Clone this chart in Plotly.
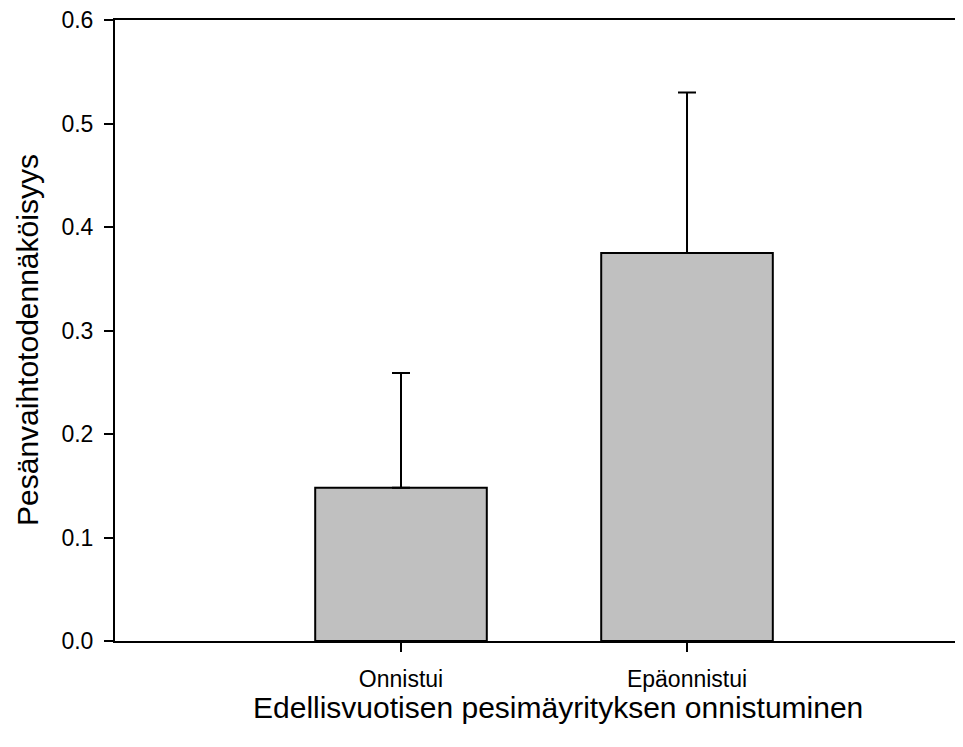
import plotly.graph_objects as go

categories = ["Onnistui", "Epäonnistui"]
means = [0.148, 0.375]
errors_up = [0.111, 0.155]
y_ticks = [0.0, 0.1, 0.2, 0.3, 0.4, 0.5, 0.6]
x_title = "Edellisvuotisen pesimäyrityksen onnistuminen"
y_title = "Pesänvaihtotodennäköisyys"

font_family = "Liberation Sans, Arial, sans-serif"

fig = go.Figure()
fig.add_trace(go.Bar(
    x=[0, 1],
    y=means,
    width=0.6,
    marker=dict(color="#c0c0c0", line=dict(color="black", width=2)),
    error_y=dict(type="data", array=errors_up, arrayminus=[0, 0], symmetric=False,
                 color="black", thickness=2, width=9),
    showlegend=False,
))

fig.update_layout(
    width=955, height=739,
    margin=dict(l=107, r=0, t=12, b=106),
    paper_bgcolor="white", plot_bgcolor="white",
    font=dict(family=font_family, color="black"),
    xaxis=dict(
        range=[-1.0, 1.965],
        tickmode="array", tickvals=[0, 1], ticktext=categories,
        ticks="outside", ticklen=9, tickwidth=2, tickcolor="black",
        showline=True, linecolor="black", linewidth=2, mirror=True,
        showgrid=False, zeroline=False, automargin=False,
        tickfont=dict(size=23, family=font_family),
        ticklabelstandoff=7,
    ),
    yaxis=dict(
        range=[0, 0.6],
        tickmode="array", tickvals=y_ticks, ticktext=[f"{v:.1f}" for v in y_ticks],
        ticks="outside", ticklen=9, tickwidth=2, tickcolor="black",
        showline=True, linecolor="black", linewidth=2,
        showgrid=False, zeroline=False, automargin=False,
        tickfont=dict(size=23, family=font_family),
        ticklabelstandoff=6,
        ticklabeloverflow="allow",
    ),
    annotations=[
        dict(text=x_title, xref="paper", yref="paper", x=(558 - 115) / 848, y=-(707 - 641) / 621,
             xanchor="center", yanchor="middle", showarrow=False,
             font=dict(size=30, family=font_family, color="black")),
        dict(text=y_title, xref="paper", yref="paper", x=-(115 - 27) / 848, y=(641 - 340) / 621,
             xanchor="center", yanchor="middle", showarrow=False, textangle=-90,
             font=dict(size=30, family=font_family, color="black")),
    ],
)

fig.write_html("out.html")
